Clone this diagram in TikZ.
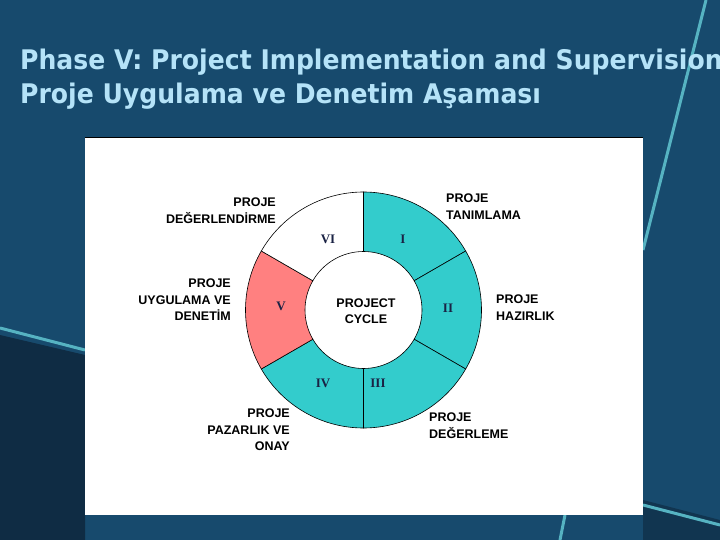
\documentclass[tikz,border=0pt]{standalone}
\usetikzlibrary{calc}
\usepackage{fontspec}
\setmainfont{Liberation Sans}
\newfontfamily\titlefont{DejaVu Sans}
\newfontfamily\numfont{Liberation Serif}
\definecolor{bg}{HTML}{174A6D}
\definecolor{bgdark}{HTML}{0F2C44}
\definecolor{titlec}{HTML}{B5E3F8}
\definecolor{teal}{HTML}{33CCCC}
\definecolor{pink}{HTML}{FF8080}
\definecolor{navy}{HTML}{1A2244}
\begin{document}
\begin{tikzpicture}[x=1pt,y=-1pt,
  lab/.style={font=\bfseries\fontsize{12.5}{16.5}\selectfont,inner sep=0pt},
  num/.style={font=\numfont\bfseries\fontsize{13}{14}\selectfont,text=navy,inner sep=0pt},
  seg/.style={draw=black,line width=0.6pt},
  ttl/.style={anchor=base west,inner sep=0pt,text=titlec,font=\titlefont\bfseries\fontsize{27}{32}\selectfont,xscale=0.93}]
\useasboundingbox (0,0) rectangle (720,540);
\fill[bg] (0,0) rectangle (720,540);
\fill[bgdark] (0,335) -- (85,355) -- (85,540) -- (0,540) -- cycle;
\fill[bgdark!70!bg] (643,500) -- (720,520) -- (720,540) -- (643,540) -- cycle;
\draw[line width=3pt,color=bg!60!cyan!70!white] (706,0) -- (643,250);
\draw[line width=3pt,color=bg!60!cyan!70!white] (0,328) -- (85,350);
\draw[line width=3pt,color=bg!60!cyan!70!white] (643,505) -- (720,525);
\draw[line width=3pt,color=bg!60!cyan!70!white] (565,515) -- (560,540);
\node[ttl] (t1) at (20,70) {Phase V: Project Implementation and Supervision};
\node[ttl] (t2) at (20,104) {Proje Uygulama ve Denetim Aşaması};
\fill[white] (85,137) rectangle (643,515);
\draw[black,line width=0.8pt] (85,137) -- (643,137);
\coordinate (c) at (363.5,310);
\foreach \a/\b/\col in {30/90/teal,-30/30/teal,-90/-30/teal,-150/-90/teal,150/210/pink,90/150/white}{
  \filldraw[seg,fill=\col] ($(c)+({118*cos(\a)},{-118*sin(\a)})$) arc[start angle=-\a,end angle=-\b,radius=118]
    -- ($(c)+({58.5*cos(\b)},{-58.5*sin(\b)})$) arc[start angle=-\b,end angle=-\a,radius=58.5] -- cycle;
}
\node[num] (n6) at (328,239) {VI};
\node[num] (n1) at (403,239) {I};
\node[num] (n5) at (281,306) {V};
\node[num] (n2) at (448,308) {II};
\node[num] (n4) at (323,383) {IV};
\node[num] (n3) at (378,383) {III};
\node[lab,align=center] (pc) at (366,311) {PROJECT\\CYCLE};
\node[lab,align=right,anchor=north east] (l6) at (276,198) {PROJE\\DEĞERLENDİRME};
\node[lab,align=left,anchor=north west] (l1) at (446,194) {PROJE\\TANIMLAMA};
\node[lab,align=right,anchor=north east] (l5) at (231,279) {PROJE\\UYGULAMA VE\\DENETİM};
\node[lab,align=left,anchor=north west] (l2) at (496,295) {PROJE\\HAZIRLIK};
\node[lab,align=right,anchor=north east] (l4) at (290,409) {PROJE\\PAZARLIK VE\\ONAY};
\node[lab,align=left,anchor=north west] (l3) at (429,413) {PROJE\\DEĞERLEME};
\end{tikzpicture}
\end{document}
